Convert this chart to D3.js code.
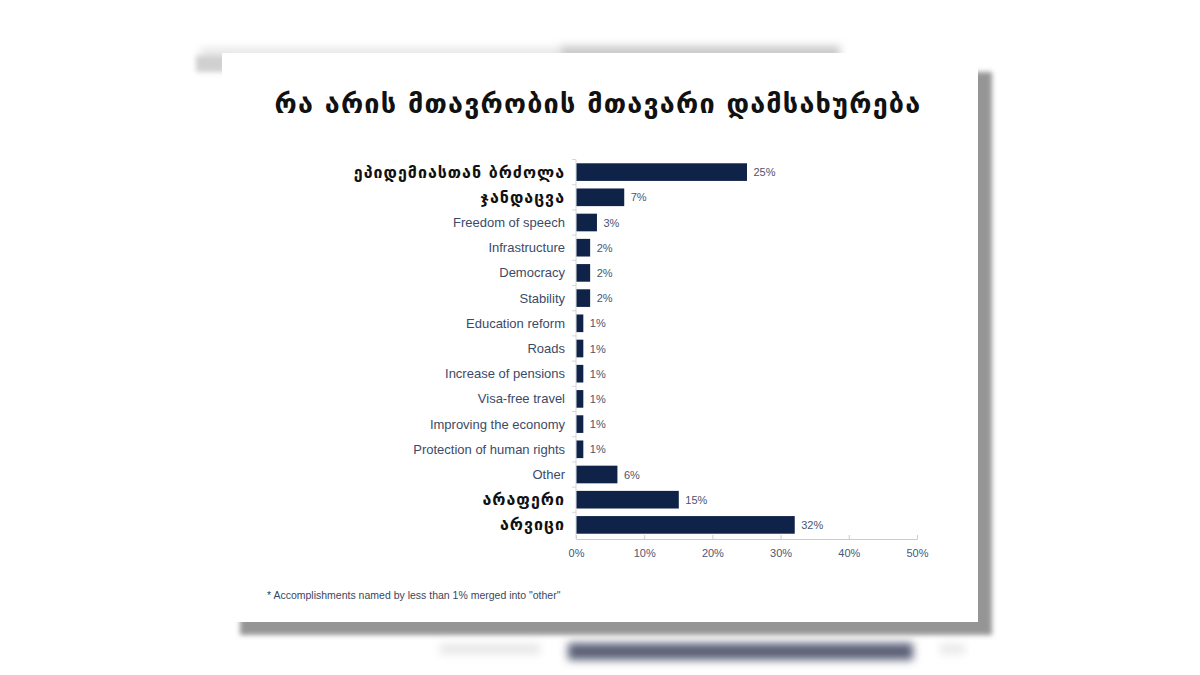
<!DOCTYPE html>
<html>
<head>
<meta charset="utf-8">
<script src="https://cdn.jsdelivr.net/npm/d3@7"></script>
<style>
  body { margin: 0; background: #fff; }
</style>
</head>
<body>
<div id="myChart"></div>
<script>
const svgW = 1200;
const svgH = 675;

// data
const title = "რა არის მთავრობის მთავარი დამსახურება";
const categories = [
  "ეპიდემიასთან ბრძოლა",
  "ჯანდაცვა",
  "Freedom of speech",
  "Infrastructure",
  "Democracy",
  "Stability",
  "Education reform",
  "Roads",
  "Increase of pensions",
  "Visa-free travel",
  "Improving the economy",
  "Protection of human rights",
  "Other",
  "არაფერი",
  "არვიცი"
];
const values = [25, 7, 3, 2, 2, 2, 1, 1, 1, 1, 1, 1, 6, 15, 32];
const xTicks = [0, 10, 20, 30, 40, 50];
const footnote = "* Accomplishments named by less than 1% merged into \"other\"";

const isGeorgian = s => /[\u10A0-\u10FF]/.test(s);

let svg = d3.select("#myChart").append("svg")
  .attr("width", svgW)
  .attr("height", svgH);

// blur filters for the photographed-screen look
let defs = svg.append("defs");
defs.append("filter").attr("id", "blur5")
  .attr("x", "-20%").attr("y", "-150%").attr("width", "140%").attr("height", "400%")
  .append("feGaussianBlur").attr("stdDeviation", 4);
defs.append("filter").attr("id", "blur3")
  .attr("x", "-20%").attr("y", "-100%").attr("width", "140%").attr("height", "300%")
  .append("feGaussianBlur").attr("stdDeviation", 2.5);

// background pieces behind the card
let bg = svg.append("g");
bg.append("rect").attr("x", 200).attr("y", 48).attr("width", 360).attr("height", 14)
  .attr("fill", "#e6e6e6").attr("filter", "url(#blur5)");
bg.append("rect").attr("x", 560).attr("y", 46).attr("width", 280).attr("height", 14)
  .attr("fill", "#c8c8c8").attr("filter", "url(#blur5)");
bg.append("rect").attr("x", 196).attr("y", 56).attr("width", 30).attr("height", 16)
  .attr("fill", "#d0d0d0").attr("filter", "url(#blur3)");
bg.append("rect").attr("x", 440).attr("y", 644).attr("width", 100).attr("height", 10)
  .attr("fill", "#e6e6e6").attr("filter", "url(#blur5)");
bg.append("rect").attr("x", 568).attr("y", 643).attr("width", 345).attr("height", 17)
  .attr("fill", "#5b6078").attr("filter", "url(#blur5)");
bg.append("rect").attr("x", 940).attr("y", 644).attr("width", 25).attr("height", 10)
  .attr("fill", "#e8e8e8").attr("filter", "url(#blur5)");
// card shadow
bg.append("rect").attr("x", 240).attr("y", 72).attr("width", 752).attr("height", 563)
  .attr("fill", "#959595").attr("filter", "url(#blur3)");

// the white slide
svg.append("rect")
  .attr("x", 222).attr("y", 53).attr("width", 756).attr("height", 569)
  .attr("fill", "#ffffff");

svg.append("text")
  .attr("x", 598).attr("y", 113)
  .attr("text-anchor", "middle")
  .style("font-family", "DejaVu Sans, sans-serif")
  .style("font-weight", "bold")
  .style("font-size", "27px")
  .style("letter-spacing", "1.2px")
  .attr("fill", "#111")
  .text(title);

const x = d3.scaleLinear().domain([0, 50]).range([576, 917]);
const y = d3.scaleBand().domain(categories).range([159.5, 537.5]).paddingInner(0.3).paddingOuter(0.15);

let chart = svg.append("g");

// x axis
let xAxis = chart.append("g")
  .attr("transform", "translate(0,539)")
  .call(d3.axisBottom(x).tickValues(xTicks).tickSizeInner(-4).tickSizeOuter(0).tickPadding(10)
    .tickFormat(d => d + "%"));
xAxis.select(".domain").attr("stroke", "#c9ccd2");
xAxis.selectAll(".tick line").attr("stroke", "#c9ccd2");
xAxis.selectAll(".tick text")
  .attr("fill", "#4a5878")
  .style("font-family", "Liberation Sans, sans-serif")
  .style("font-size", "11px");

// y axis line with ticks between rows
chart.append("line")
  .attr("x1", 576).attr("x2", 576)
  .attr("y1", y.range()[0]).attr("y2", 539)
  .attr("stroke", "#d3d6db");
chart.selectAll(".ytick")
  .data(categories)
  .enter()
  .append("line")
  .attr("class", "ytick")
  .attr("x1", 572).attr("x2", 576)
  .attr("y1", d => y(d) - y.step() * y.paddingInner() / 2)
  .attr("y2", d => y(d) - y.step() * y.paddingInner() / 2)
  .attr("stroke", "#d3d6db");

// bars
chart.selectAll(".bar")
  .data(categories)
  .enter()
  .append("rect")
  .attr("class", "bar")
  .attr("x", x(0) + 0.5)
  .attr("y", d => y(d))
  .attr("width", (d, i) => x(values[i]) - x(0))
  .attr("height", y.bandwidth())
  .attr("fill", "#0f2349");

// value labels
chart.selectAll(".val")
  .data(categories)
  .enter()
  .append("text")
  .attr("class", "val")
  .attr("x", (d, i) => x(values[i]) + 7)
  .attr("y", d => y(d) + y.bandwidth() / 2 + 4)
  .attr("fill", "#4a5570")
  .style("font-family", "Liberation Sans, sans-serif")
  .style("font-size", "11px")
  .text((d, i) => values[i] + "%");

// category labels
chart.selectAll(".cat")
  .data(categories)
  .enter()
  .append("text")
  .attr("class", "cat")
  .attr("x", 565)
  .attr("y", d => y(d) + y.bandwidth() / 2 + (isGeorgian(d) ? 5.5 : 4.5))
  .attr("text-anchor", "end")
  .attr("fill", d => isGeorgian(d) ? "#111" : "#3c4a68")
  .style("font-family", d => isGeorgian(d) ? "DejaVu Sans, sans-serif" : "Liberation Sans, sans-serif")
  .style("font-weight", d => isGeorgian(d) ? "bold" : "normal")
  .style("font-size", d => isGeorgian(d) ? "16px" : "13px")
  .style("letter-spacing", d => isGeorgian(d) ? "1px" : "0px")
  .text(d => d);

svg.append("text")
  .attr("x", 267).attr("y", 599)
  .attr("fill", "#3a4660")
  .style("font-family", "Liberation Sans, sans-serif")
  .style("font-size", "10.5px")
  .text(footnote);
</script>
</body>
</html>
